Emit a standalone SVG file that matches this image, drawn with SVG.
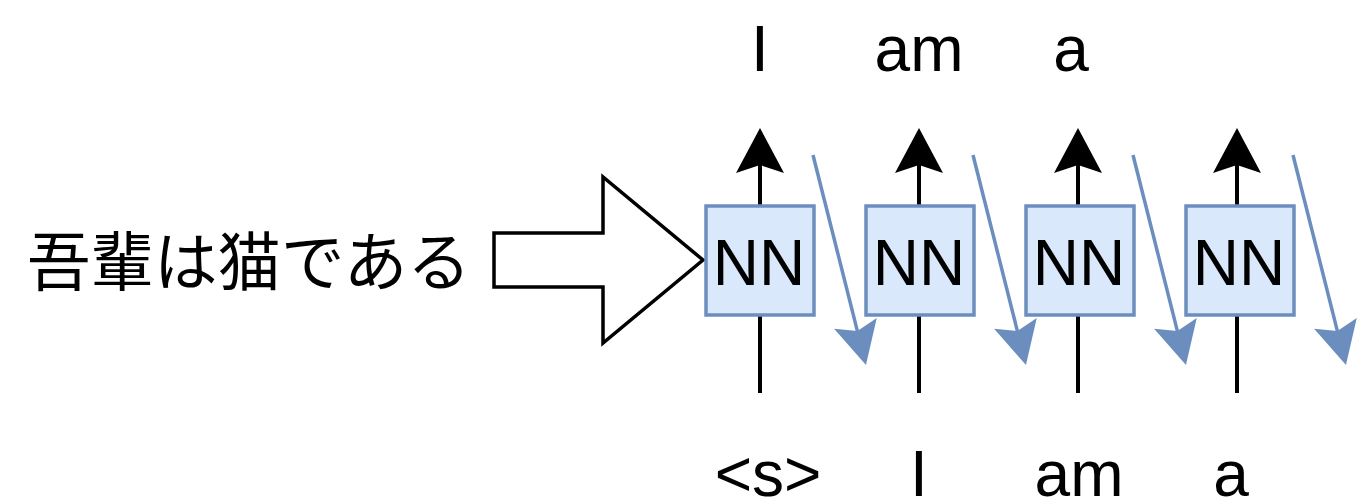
<svg xmlns="http://www.w3.org/2000/svg" width="1358" height="503" viewBox="0 0 1358 503">
  <style>
    .lbl { font-family: "Liberation Sans", Arial, sans-serif; font-size: 64px; fill: #000; text-anchor: middle; }
    .jp { font-family: "Liberation Sans", "Noto Sans CJK JP", sans-serif; font-size: 63.5px; fill: #000; }
    .nn rect { fill: #dae8fc; stroke: #6c8ebf; stroke-width: 3.5; }
    .out { stroke: #000; stroke-width: 4; fill: none; }
    .rec { stroke: #6c8ebf; stroke-width: 3.5; fill: none; }
  </style>
  <defs>
    <marker id="headBlack" markerUnits="userSpaceOnUse" markerWidth="46" markerHeight="48" refX="8" refY="24" orient="auto" overflow="visible">
      <path d="M0,0 L45,24 L0,48 L8,24 Z" fill="#000"/>
    </marker>
    <marker id="headBlue" markerUnits="userSpaceOnUse" markerWidth="44" markerHeight="44" refX="8" refY="22" orient="auto" overflow="visible">
      <path d="M0,0 L43,22 L0,44 L8,22 Z" fill="#6c8ebf"/>
    </marker>
  </defs>

  <!-- source sentence -->
  <g id="source">
    <text class="jp" x="27" y="285">吾輩は猫である</text>
  </g>

  <!-- encoder hand-off arrow -->
  <g id="bigArrow">
    <polygon points="494,233 603,233 603,177 703,260 603,343 603,287 494,287" fill="#fff" stroke="#000" stroke-width="3.5" stroke-linejoin="miter"/>
  </g>

  <!-- connectors -->
  <g id="connectors">
    <!-- inputs into each cell -->
    <line class="out" x1="760" y1="316" x2="760" y2="393"/>
    <line class="out" x1="919" y1="316" x2="919" y2="393"/>
    <line class="out" x1="1078" y1="316" x2="1078" y2="393"/>
    <line class="out" x1="1237" y1="316" x2="1237" y2="393"/>
    <!-- outputs from each cell -->
    <line class="out" x1="760" y1="206" x2="760" y2="165" marker-end="url(#headBlack)"/>
    <line class="out" x1="919" y1="206" x2="919" y2="165" marker-end="url(#headBlack)"/>
    <line class="out" x1="1078" y1="206" x2="1078" y2="165" marker-end="url(#headBlack)"/>
    <line class="out" x1="1237" y1="206" x2="1237" y2="165" marker-end="url(#headBlack)"/>
    <!-- recurrent state passed to next step -->
    <line class="rec" x1="813" y1="155" x2="857.4" y2="331.1" marker-end="url(#headBlue)"/>
    <line class="rec" x1="973" y1="155" x2="1017.4" y2="331.1" marker-end="url(#headBlue)"/>
    <line class="rec" x1="1133" y1="155" x2="1177.4" y2="331.1" marker-end="url(#headBlue)"/>
    <line class="rec" x1="1293" y1="155" x2="1337.4" y2="331.1" marker-end="url(#headBlue)"/>
  </g>

  <!-- RNN cells -->
  <g id="nn1" class="nn">
    <rect x="706" y="206" width="108" height="109"/>
    <text class="lbl" x="759" y="285">NN</text>
  </g>
  <g id="nn2" class="nn">
    <rect x="866" y="206" width="108" height="109"/>
    <text class="lbl" x="919" y="285">NN</text>
  </g>
  <g id="nn3" class="nn">
    <rect x="1026" y="206" width="108" height="109"/>
    <text class="lbl" x="1079" y="285">NN</text>
  </g>
  <g id="nn4" class="nn">
    <rect x="1186" y="206" width="108" height="109"/>
    <text class="lbl" x="1239" y="285">NN</text>
  </g>

  <!-- output tokens -->
  <g id="outputs">
    <text class="lbl" x="760" y="71">I</text>
    <text class="lbl" x="919" y="71">am</text>
    <text class="lbl" x="1071" y="71">a</text>
  </g>

  <!-- input tokens -->
  <g id="inputs">
    <text class="lbl" x="768" y="496">&lt;s&gt;</text>
    <text class="lbl" x="919" y="496">I</text>
    <text class="lbl" x="1079" y="496">am</text>
    <text class="lbl" x="1231" y="496">a</text>
  </g>
</svg>
